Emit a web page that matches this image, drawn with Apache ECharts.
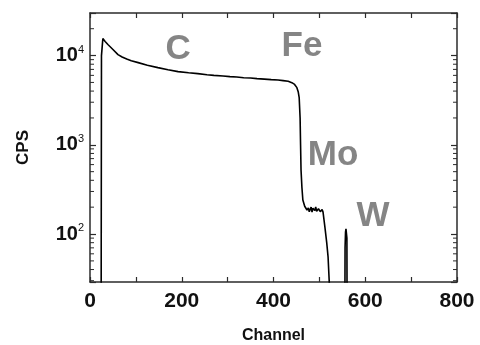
<!DOCTYPE html>
<html>
<head>
<meta charset="utf-8">
<script src="https://cdn.jsdelivr.net/npm/echarts@6/dist/echarts.min.js"></script>
<style>
  html, body { margin: 0; padding: 0; background: #fff; }
  #chart { width: 480px; height: 345px; }
</style>
</head>
<body>
<div id="chart"></div>
<script>
// spectrum: [channel, counts per second]
const channels = [24, 25, 28, 33, 39, 50, 61, 70, 80, 90, 105, 125, 148, 170, 192, 215, 235, 255, 270, 290, 305, 320, 335, 350, 364, 380, 395, 410, 421, 432, 440, 446, 451, 454, 456, 458, 459, 460, 462, 464, 468, 473, 476, 478, 482, 484, 486, 490, 492, 494, 498, 502, 506, 508, 512, 516, 519, 523, 530, 555, 556, 557, 558, 560, 561, 600];
const cps = [1, 10000, 15500, 14400, 13300, 11700, 10260, 9650, 9150, 8750, 8340, 7800, 7330, 6950, 6610, 6420, 6280, 6100, 6000, 5900, 5810, 5760, 5650, 5600, 5520, 5450, 5380, 5320, 5240, 5150, 4970, 4750, 4370, 3900, 3370, 2000, 1000, 524, 330, 241, 205, 186, 196, 178, 200, 176, 195, 183, 201, 180, 192, 178, 188, 176, 120, 80, 55, 20, 1, 1, 70, 105, 114, 90, 1, 1];

// element labels
const elements = ['C', 'Fe', 'Mo', 'W'];
const elementAt = [[192, 11800], [462, 12800], [530, 770], [617, 159]];

const yMinor = [30, 40, 50, 60, 70, 80, 90, 200, 300, 400, 500, 600, 700, 800, 900, 2000, 3000, 4000, 5000, 6000, 7000, 8000, 9000, 20000];

const chart = echarts.init(document.getElementById('chart'), null, { renderer: 'canvas' });

const FONT = 'Liberation Sans';
const frame = '#2b2b2b';

const option = {
  animation: false,
  grid: { left: 90, right: 23, top: 13, bottom: 63, outerBoundsMode: 'none', containLabel: false },
  xAxis: [{
    type: 'value', min: 0, max: 800, interval: 100,
    name: 'Channel', nameLocation: 'middle', nameGap: 46,
    nameTextStyle: { fontFamily: FONT, fontWeight: 'bold', fontSize: 16, color: '#111' },
    axisLine: { onZero: false, lineStyle: { color: frame, width: 1.5 } },
    axisTick: { inside: true, length: 5, lineStyle: { color: frame, width: 1.2 } },
    axisLabel: {
      margin: 9, fontFamily: FONT, fontWeight: 'bold', fontSize: 21, color: '#111',
      formatter: v => (v % 200 === 0 ? String(v) : '')
    },
    splitLine: { show: false }
  }, {
    type: 'value', min: 0, max: 800, interval: 100, position: 'top',
    axisLine: { onZero: false, lineStyle: { color: frame, width: 1.5 } },
    axisTick: { inside: true, length: 5, lineStyle: { color: frame, width: 1.2 } },
    axisLabel: { show: false },
    splitLine: { show: false }
  }],
  yAxis: [{
    type: 'log', logBase: 10, min: 29, max: 30000, position: 'left',
    name: 'CPS', nameLocation: 'middle', nameGap: 58, nameRotate: 90,
    nameTextStyle: { fontFamily: FONT, fontWeight: 'bold', fontSize: 17, color: '#111' },
    axisLine: { show: true, onZero: false, lineStyle: { color: frame, width: 1.5 } },
    axisTick: { inside: true, length: 6, lineStyle: { color: frame, width: 1.2 } },
    axisLabel: {
      margin: 6, color: '#111',
      formatter: v => {
        const e = Math.round(Math.log10(v));
        if (Math.abs(Math.pow(10, e) - v) > 1e-6 * v) return '';
        return '{b|10}{s|' + e + '}';
      },
      rich: {
        b: { fontFamily: FONT, fontWeight: 'bold', fontSize: 20, color: '#111' },
        s: { fontFamily: FONT, fontSize: 11, color: '#111', verticalAlign: 'top', padding: [0, 0, 12, 0] }
      }
    },
    splitLine: { show: false }
  }, {
    type: 'log', logBase: 10, min: 29, max: 30000, position: 'right',
    axisLine: { show: true, onZero: false, lineStyle: { color: frame, width: 1.5 } },
    axisTick: { inside: true, length: 6, lineStyle: { color: frame, width: 1.2 } },
    axisLabel: { show: false },
    splitLine: { show: false }
  }],
  series: [{
    type: 'line',
    data: channels.map((c, i) => [c, cps[i]]),
    showSymbol: false,
    lineStyle: { color: '#000', width: 1.6 },
    clip: true,
    z: 3
  }, {
    // minor log ticks on both vertical edges
    type: 'custom',
    data: yMinor.map(v => [400, v]),
    clip: false,
    silent: true,
    z: 5,
    renderItem: (params, api) => {
      const v = api.value(1);
      const l = api.coord([0, v]);
      const r = api.coord([800, v]);
      const st = { stroke: frame, lineWidth: 1 };
      return {
        type: 'group',
        children: [
          { type: 'line', shape: { x1: l[0], y1: l[1], x2: l[0] + 4, y2: l[1] }, style: st },
          { type: 'line', shape: { x1: r[0], y1: r[1], x2: r[0] - 4, y2: r[1] }, style: st }
        ]
      };
    }
  }, {
    type: 'scatter',
    data: elements.map((n, i) => ({ name: n, value: elementAt[i] })),
    symbolSize: 0,
    silent: true,
    label: {
      show: true, position: 'inside', formatter: p => p.name,
      fontFamily: FONT, fontWeight: 'bold', fontSize: 35, color: '#666'
    }
  }]
};

chart.setOption(option);
</script>
</body>
</html>
